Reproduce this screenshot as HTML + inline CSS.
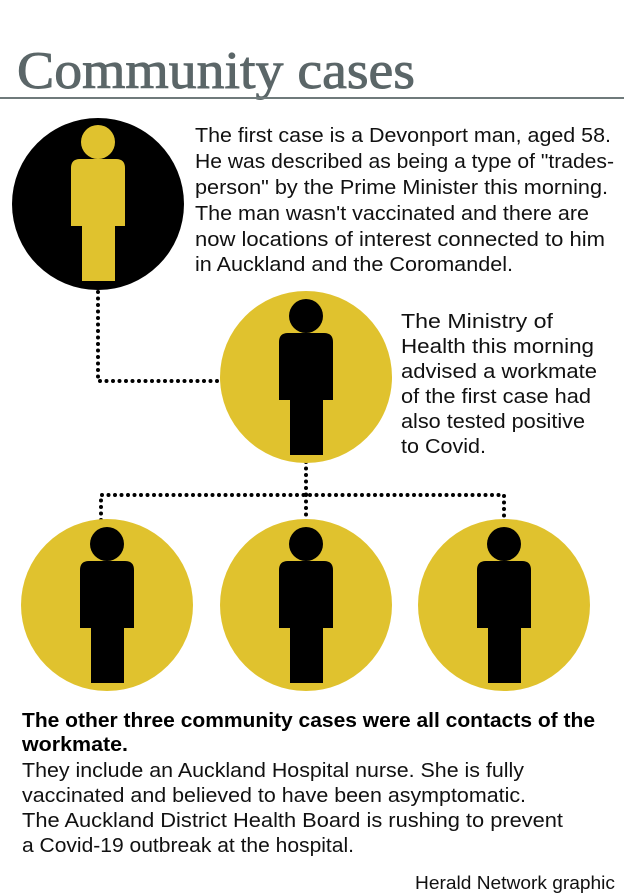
<!DOCTYPE html>
<html><head><meta charset="utf-8"><style>
html,body{margin:0;padding:0;background:#fff;}
svg{display:block}
text{font-family:"Liberation Sans",sans-serif;fill:#111;font-size:20px}
</style></head><body>
<svg width="624" height="894" viewBox="0 0 624 894" xmlns="http://www.w3.org/2000/svg">
<defs>
<g id="fig">
<ellipse cx="86" cy="24" rx="17" ry="17"/>
<path d="M59 50 Q59 41 68 41 L104 41 Q113 41 113 50 L113 108 L103 108 L103 163 L70 163 L70 108 L59 108 Z"/>
</g>
</defs>
<text x="17" y="88" style="font-family:'Liberation Serif',serif;font-size:53px;fill:#5b6668;stroke:#5b6668;stroke-width:0.9" textLength="398" lengthAdjust="spacingAndGlyphs">Community cases</text>
<rect x="0" y="97" width="624" height="2" fill="#6f7a7b"/>

<g stroke="#000" stroke-width="4" stroke-linecap="round" stroke-dasharray="0 6.5" fill="none">
<path d="M98 292 V381 H218"/>
<path d="M306 462 V495"/>
<path d="M101 520 V495 H504 V520"/>
<path d="M306 495 V520"/>
</g>

<circle cx="98" cy="204" r="86" fill="#000"/>
<g transform="translate(12,118)" fill="#e0c22e"><use href="#fig"/></g>
<circle cx="306" cy="377" r="86" fill="#e0c22e"/>
<g transform="translate(220,292)" fill="#000"><use href="#fig"/></g>
<circle cx="107" cy="605" r="86" fill="#e0c22e"/>
<g transform="translate(21,520)" fill="#000"><use href="#fig"/></g>
<circle cx="306" cy="605" r="86" fill="#e0c22e"/>
<g transform="translate(220,520)" fill="#000"><use href="#fig"/></g>
<circle cx="504" cy="605" r="86" fill="#e0c22e"/>
<g transform="translate(418,520)" fill="#000"><use href="#fig"/></g>

<text x="195" y="142" textLength="416" lengthAdjust="spacingAndGlyphs">The first case is a Devonport man, aged 58.</text>
<text x="195" y="168" textLength="419" lengthAdjust="spacingAndGlyphs">He was described as being a type of "trades-</text>
<text x="195" y="194" textLength="413" lengthAdjust="spacingAndGlyphs">person" by the Prime Minister this morning.</text>
<text x="195" y="220" textLength="394" lengthAdjust="spacingAndGlyphs">The man wasn't vaccinated and there are</text>
<text x="195" y="246" textLength="410" lengthAdjust="spacingAndGlyphs">now locations of interest connected to him</text>
<text x="195" y="271" textLength="318" lengthAdjust="spacingAndGlyphs">in Auckland and the Coromandel.</text>

<text x="401" y="328" textLength="152" lengthAdjust="spacingAndGlyphs">The Ministry of</text>
<text x="401" y="353" textLength="193" lengthAdjust="spacingAndGlyphs">Health this morning</text>
<text x="401" y="378" textLength="196" lengthAdjust="spacingAndGlyphs">advised a workmate</text>
<text x="401" y="403" textLength="190" lengthAdjust="spacingAndGlyphs">of the first case had</text>
<text x="401" y="428" textLength="184" lengthAdjust="spacingAndGlyphs">also tested positive</text>
<text x="401" y="453" textLength="85" lengthAdjust="spacingAndGlyphs">to Covid.</text>

<text x="22" y="727" style="font-weight:bold;fill:#000" textLength="573" lengthAdjust="spacingAndGlyphs">The other three community cases were all contacts of the</text>
<text x="22" y="751" style="font-weight:bold;fill:#000" textLength="106" lengthAdjust="spacingAndGlyphs">workmate.</text>
<text x="22" y="777" textLength="502" lengthAdjust="spacingAndGlyphs">They include an Auckland Hospital nurse. She is fully</text>
<text x="22" y="802" textLength="504" lengthAdjust="spacingAndGlyphs">vaccinated and believed to have been asymptomatic.</text>
<text x="22" y="827" textLength="541" lengthAdjust="spacingAndGlyphs">The Auckland District Health Board is rushing to prevent</text>
<text x="22" y="852" textLength="332" lengthAdjust="spacingAndGlyphs">a Covid-19 outbreak at the hospital.</text>
<text x="415" y="889" style="font-size:18px" textLength="200" lengthAdjust="spacingAndGlyphs">Herald Network graphic</text>
</svg>
</body></html>
